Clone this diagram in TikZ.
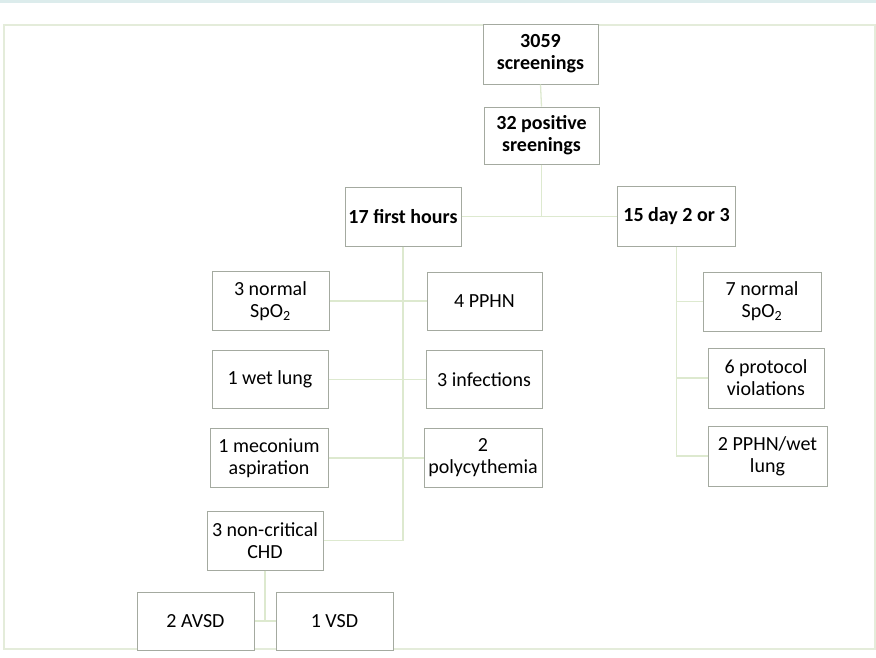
\documentclass[tikz,border=0pt]{standalone}
\usepackage{fontspec}
\setmainfont{Carlito}
\definecolor{boxline}{HTML}{A4AAA0}
\definecolor{conn}{HTML}{DDE9CF}
\definecolor{frame}{HTML}{E4ECDA}
\definecolor{topbar}{HTML}{DCECEC}
\begin{document}
\begin{tikzpicture}[x=1pt,y=-1pt,
  box/.style={draw=boxline,line width=1pt,fill=white,inner sep=0pt,align=center,
    minimum width=117pt,minimum height=59pt,
    font=\fontsize{20}{22}\selectfont},
  bbox/.style={box,font=\fontsize{20}{22}\selectfont\bfseries},
  link/.style={draw=conn,line width=1.3pt}]
\useasboundingbox (0,0) rectangle (876,657);
\fill[topbar] (0,0) rectangle (876,3);
\draw[frame,line width=1.2pt] (4,25) rectangle (875,649);
% nodes
\node[bbox,minimum width=115pt,minimum height=60pt] (s3059) at (540.5,54) {3059\\screenings};
\node[bbox,minimum width=115pt,minimum height=57pt] (pos32) at (541.5,135.5) {32 positive\\sreenings};
\node[bbox,minimum width=116pt] (h17) at (403,216.5) {17 first hours};
\node[bbox,minimum width=118pt,minimum height=60pt] (d15) at (676.5,216.5) {15 day 2 or 3};
\node[box] (nsp3) at (270.5,301) {3 normal\\SpO\textsubscript{2}};
\node[box,minimum width=115pt,minimum height=58pt] (pphn4) at (484.5,301) {4 PPHN};
\node[box,minimum width=116pt,minimum height=58pt] (wet1) at (270,379.5) {1 wet lung};
\node[box,minimum width=116pt,minimum height=58pt] (inf3) at (484,379.5) {3 infections};
\node[box,minimum width=118pt,minimum height=59pt] (mec1) at (269,458) {1 meconium\\aspiration};
\node[box,minimum width=118pt,minimum height=59pt] (poly2) at (483,458) {2\\polycythemia};
\node[box,minimum width=116pt] (chd3) at (265,540.5) {3 non-critical\\CHD};
\node[box,minimum height=58pt] (avsd2) at (195.5,621) {2 AVSD};
\node[box,minimum height=58pt] (vsd1) at (334.5,621) {1 VSD};
\node[box,minimum width=118pt] (nsp7) at (762,301.5) {7 normal\\SpO\textsubscript{2}};
\node[box,minimum width=116pt,minimum height=60pt] (prot6) at (766,378) {6 protocol\\violations};
\node[box,minimum width=119pt,minimum height=60pt] (pw2) at (767.5,456) {2 PPHN/wet\\lung};
% connectors
\draw[link] (s3059.south) -- (pos32.north);
\draw[link] (pos32.south) -- (pos32.south |- h17.east);
\draw[link] (h17.east) -- (d15.west);
\draw[link] (h17.south) |- (chd3.east);
\draw[link] (nsp3.east) -- (pphn4.west);
\draw[link] (wet1.east) -- (inf3.west);
\draw[link] (mec1.east) -- (poly2.west);
\draw[link] (d15.south) |- (pw2.west);
\draw[link] (d15.south) |- (nsp7.west);
\draw[link] (d15.south) |- (prot6.west);
\draw[link] (chd3.south) -- (chd3.south |- avsd2.east);
\draw[link] (avsd2.east) -- (vsd1.west);
\end{tikzpicture}
\end{document}
